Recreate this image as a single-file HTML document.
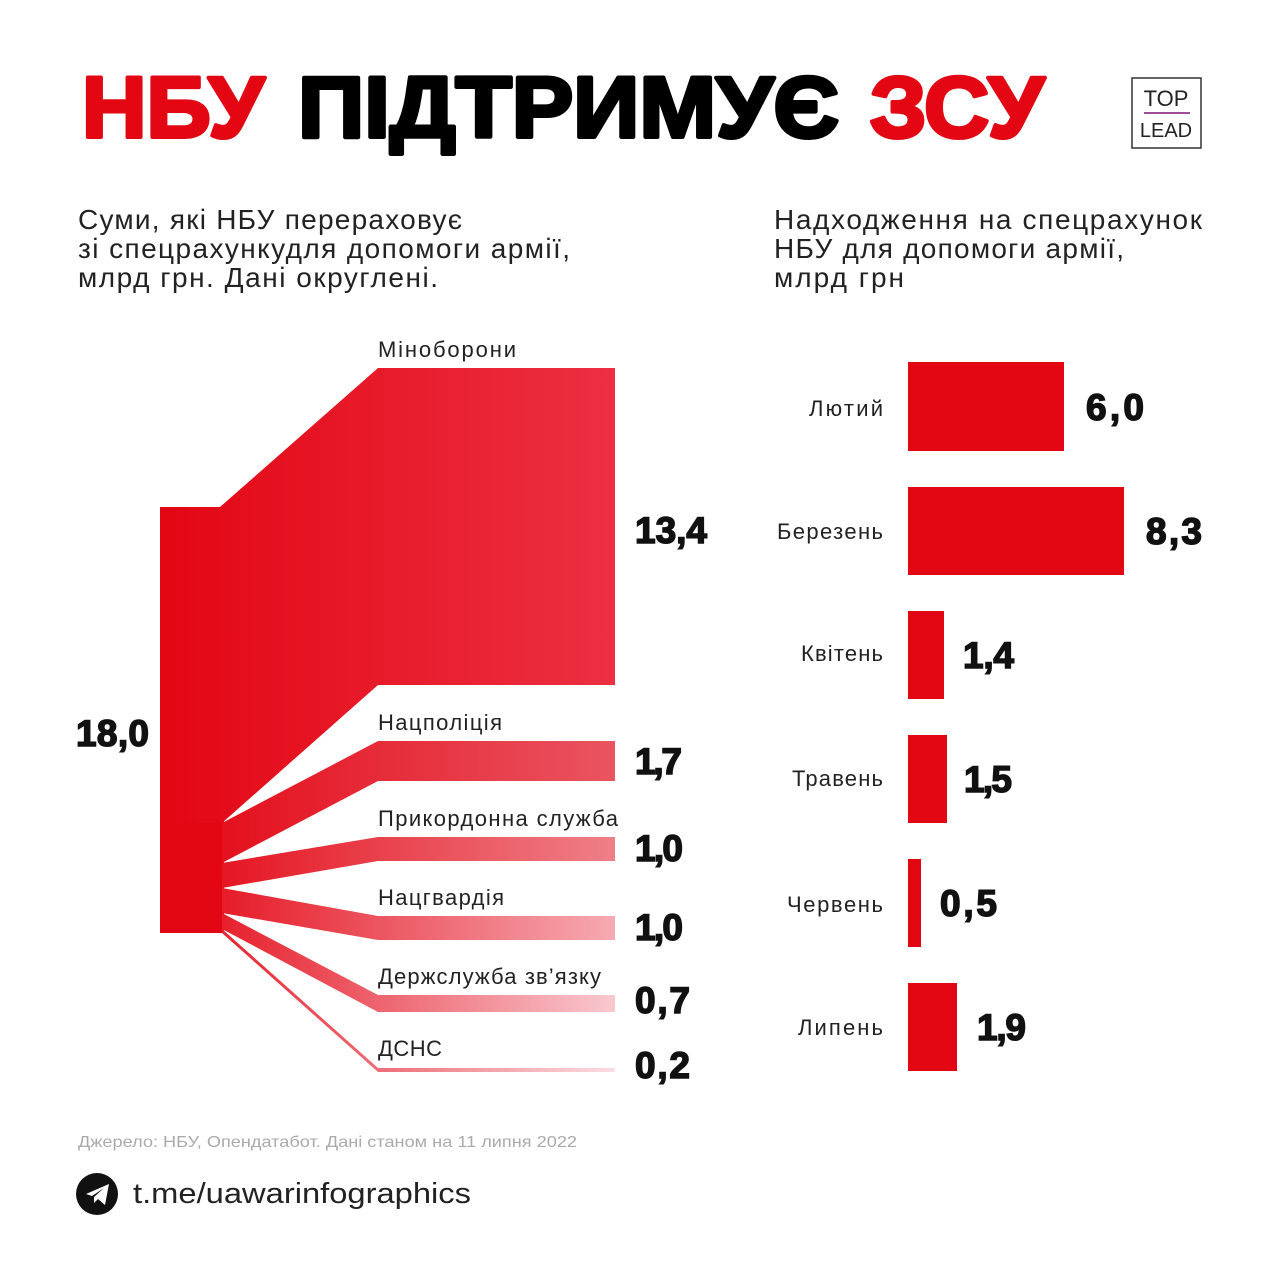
<!DOCTYPE html>
<html><head><meta charset="utf-8"><style>
body{margin:0;background:#fff}
svg{display:block}
text{font-family:"Liberation Sans",sans-serif}
</style></head><body>
<svg width="1280" height="1280" viewBox="0 0 1280 1280" xmlns="http://www.w3.org/2000/svg">
<defs>
<linearGradient id="g1" x1="160" x2="615" gradientUnits="userSpaceOnUse"><stop offset="0" stop-color="#e30613"/><stop offset="1" stop-color="#ec3042"/></linearGradient>
<linearGradient id="g2" x1="160" x2="615" gradientUnits="userSpaceOnUse"><stop offset="0" stop-color="#e30613"/><stop offset="1" stop-color="#ea5461"/></linearGradient>
<linearGradient id="g3" x1="160" x2="615" gradientUnits="userSpaceOnUse"><stop offset="0" stop-color="#e30613"/><stop offset="1" stop-color="#ef8088"/></linearGradient>
<linearGradient id="g4" x1="160" x2="615" gradientUnits="userSpaceOnUse"><stop offset="0" stop-color="#e30613"/><stop offset="1" stop-color="#f6aab2"/></linearGradient>
<linearGradient id="g5" x1="160" x2="615" gradientUnits="userSpaceOnUse"><stop offset="0" stop-color="#e30613"/><stop offset="1" stop-color="#f9c9d0"/></linearGradient>
<linearGradient id="g6" x1="160" x2="615" gradientUnits="userSpaceOnUse"><stop offset="0" stop-color="#e30613"/><stop offset="1" stop-color="#fbdde2"/></linearGradient>
</defs>
<g font-weight="bold" font-size="86" stroke-width="4" stroke-linejoin="round">
<text x="82" y="137" fill="#e30613" stroke="#e30613" textLength="182" lengthAdjust="spacingAndGlyphs">НБУ</text>
<text x="298" y="137" fill="#000" stroke="#000" textLength="541" lengthAdjust="spacingAndGlyphs">ПІДТРИМУЄ</text>
<text x="870" y="137" fill="#e30613" stroke="#e30613" textLength="174" lengthAdjust="spacingAndGlyphs">ЗСУ</text>
</g>
<rect x="1132" y="78" width="69" height="70" fill="none" stroke="#333" stroke-width="1.5"/>
<text x="1166" y="106" font-size="22" text-anchor="middle" fill="#222">TOP</text>
<line x1="1144" y1="113" x2="1190" y2="113" stroke="#9b4f9b" stroke-width="2"/>
<text x="1166" y="137" font-size="20" text-anchor="middle" fill="#222">LEAD</text>
<g font-size="28" fill="#222" lengthAdjust="spacingAndGlyphs">
<text x="78" y="229" textLength="384">Суми, які НБУ перераховує</text>
<text x="78" y="258" textLength="492">зі спецрахункудля допомоги армії,</text>
<text x="78" y="287" textLength="360">млрд грн. Дані округлені.</text>
<text x="774" y="229" textLength="428">Надходження на спецрахунок</text>
<text x="774" y="258" textLength="350">НБУ для допомоги армії,</text>
<text x="774" y="287" textLength="130">млрд грн</text>
</g>
<rect x="160" y="507" width="64" height="426" fill="#e30613"/>
<path d="M220 507 L378 368 L615 368 L615 685 L378 685 L222 823 L160 823 L160 507 Z" fill="url(#g1)"/>
<path d="M222 823 L378 741 L615 741 L615 781 L378 781 L222 863 Z" fill="url(#g2)"/>
<path d="M222 863 L378 837 L615 837 L615 861 L378 861 L222 888 Z" fill="url(#g3)"/>
<path d="M222 888 L378 916 L615 916 L615 940 L378 940 L222 913 Z" fill="url(#g4)"/>
<path d="M222 913 L378 995 L615 995 L615 1012 L378 1012 L222 929 Z" fill="url(#g5)"/>
<path d="M222 929 L378 1068 L615 1068 L615 1072 L378 1072 L222 933 Z" fill="url(#g6)"/>
<g font-size="22" fill="#222" lengthAdjust="spacingAndGlyphs">
<text x="378" y="357" textLength="138">Міноборони</text>
<text x="378" y="730" textLength="124">Нацполіція</text>
<text x="378" y="826" textLength="240">Прикордонна служба</text>
<text x="378" y="905" textLength="126">Нацгвардія</text>
<text x="378" y="984" textLength="223">Держслужба зв’язку</text>
<text x="378" y="1056" textLength="64">ДСНС</text>
</g>
<g font-size="37" font-weight="bold" fill="#111" stroke="#111" stroke-width="1.5" lengthAdjust="spacingAndGlyphs">
<text x="76" y="746" textLength="73">18,0</text>
<text x="635" y="543" textLength="72">13,4</text>
<text x="635" y="774" textLength="47">1,7</text>
<text x="635" y="861" textLength="48">1,0</text>
<text x="635" y="940" textLength="48">1,0</text>
<text x="635" y="1013" textLength="55">0,7</text>
<text x="635" y="1078" textLength="55">0,2</text>
</g>
<g fill="#e30613">
<rect x="908" y="362" width="156" height="89"/>
<rect x="908" y="487" width="216" height="88"/>
<rect x="908" y="611" width="36" height="88"/>
<rect x="908" y="735" width="39" height="88"/>
<rect x="908" y="859" width="13" height="88"/>
<rect x="908" y="983" width="49" height="88"/>
</g>
<g font-size="22" fill="#222" text-anchor="end" lengthAdjust="spacingAndGlyphs">
<text x="883" y="416" textLength="74">Лютий</text>
<text x="883" y="539" textLength="106">Березень</text>
<text x="883" y="661" textLength="82">Квітень</text>
<text x="883" y="786" textLength="91">Травень</text>
<text x="883" y="912" textLength="96">Червень</text>
<text x="883" y="1035" textLength="85">Липень</text>
</g>
<g font-size="37" font-weight="bold" fill="#111" stroke="#111" stroke-width="1.5" lengthAdjust="spacingAndGlyphs">
<text x="1086" y="420" textLength="58">6,0</text>
<text x="1146" y="544" textLength="56">8,3</text>
<text x="963" y="668" textLength="51">1,4</text>
<text x="964" y="792" textLength="48">1,5</text>
<text x="940" y="916" textLength="57">0,5</text>
<text x="977" y="1040" textLength="49">1,9</text>
</g>
<text x="78" y="1147" font-size="16" fill="#aaa" textLength="499" lengthAdjust="spacingAndGlyphs">Джерело: НБУ, Опендатабот. Дані станом на 11 липня 2022</text>
<circle cx="97" cy="1194" r="21" fill="#111"/>
<path d="M86 1194 L109 1184 L105 1205 L98 1199 L94 1203 L94 1197 L104 1188 L92 1196 Z" fill="#fff"/>
<text x="133" y="1203" font-size="29" fill="#222" textLength="338" lengthAdjust="spacingAndGlyphs">t.me/uawarinfographics</text>
</svg>
</body></html>
